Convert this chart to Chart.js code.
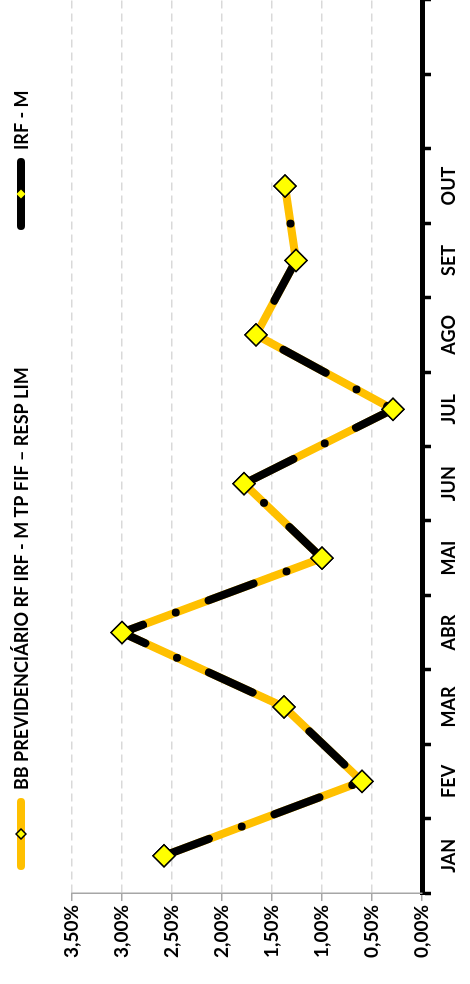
<!DOCTYPE html>
<html>
<head>
<meta charset="utf-8">
<script src="https://cdn.jsdelivr.net/npm/chart.js@4.4.1/dist/chart.umd.min.js"></script>
<style>
  html, body { margin: 0; padding: 0; background: #fff; overflow: hidden; }
  body { width: 470px; height: 984px; position: relative; }
  /* chart is drawn landscape and turned a quarter turn to the left */
  #wrap {
    position: absolute; left: 0; top: 0;
    width: 984px; height: 470px;
    transform-origin: 0 0;
    transform: translate(0, 984px) rotate(-90deg);
  }
</style>
</head>
<body>
<div id="wrap"><canvas id="myChart" width="984" height="470"></canvas></div>
<script>
/* ===== DATA ===== */
const months = ['JAN', 'FEV', 'MAR', 'ABR', 'MAI', 'JUN', 'JUL', 'AGO', 'SET', 'OUT', '', ''];
const bbFund = [2.58, 0.60, 1.38, 3.00, 1.00, 1.78, 0.29, 1.66, 1.26, 1.37];
const irfM = [2.58, 0.60, 1.38, 3.00, 1.00, 1.78, 0.29, 1.66, 1.26, 1.37];
const valueTicks = [0, 0.5, 1, 1.5, 2, 2.5, 3, 3.5];

const FONT = 'Lato, "Open Sans", sans-serif';

function pct(v) {
    return v.toFixed(2).replace('.', ',') + '%';
}

function diamond(ctx, x, y, r, fill, stroke, lw) {
    ctx.beginPath();
    ctx.moveTo(x - r, y);
    ctx.lineTo(x, y - r);
    ctx.lineTo(x + r, y);
    ctx.lineTo(x, y + r);
    ctx.closePath();
    ctx.fillStyle = fill;
    ctx.fill();
    if (stroke) {
        ctx.lineWidth = lw;
        ctx.strokeStyle = stroke;
        ctx.stroke();
    }
}

/* ===== LEGEND (line + marker, like the spreadsheet one) ===== */
const lineLegend = {
    id: 'lineLegend',
    afterDraw(chart) {
        const ctx = chart.ctx;
        const y = 21;
        const items = [
            { x: 114, ds: chart.data.datasets[0], mark: ['#FFFF00', '#000', 1.5, 5] },
            { x: 754, ds: chart.data.datasets[1], mark: ['#FFFF00', null, 0, 4.5] }
        ];
        ctx.save();
        items.forEach(it => {
            ctx.beginPath();
            ctx.lineCap = 'round';
            ctx.lineWidth = 8;
            ctx.strokeStyle = it.ds.borderColor;
            ctx.moveTo(it.x + 4, y);
            ctx.lineTo(it.x + 68, y);
            ctx.stroke();
            diamond(ctx, it.x + 36, y, it.mark[3], it.mark[0], it.mark[1], it.mark[2]);
            ctx.fillStyle = '#000';
            ctx.font = 'bold 18px ' + FONT;
            ctx.textBaseline = 'middle';
            ctx.textAlign = 'left';
            ctx.fillText(it.ds.label, it.x + 80, y + 1);
        });
        ctx.restore();
    }
};

/* big markers of the fund sit on top of both lines */
const markersOnTop = {
    id: 'markersOnTop',
    afterDatasetsDraw(chart) {
        const meta = chart.getDatasetMeta(0);
        meta.data.forEach(p => p.draw(chart.ctx, chart.chartArea));
    }
};

var ctx = document.getElementById('myChart').getContext('2d');

var lineChart = new Chart(ctx, {
    type: 'line',
    data: {
        labels: months,
        datasets: [{
            label: 'BB PREVIDENCIÁRIO RF IRF - M TP FIF – RESP LIM',
            data: bbFund,
            borderColor: '#FFC000',
            borderWidth: 8,
            borderCapStyle: 'round',
            borderJoinStyle: 'round',
            pointStyle: 'rectRot',
            pointRadius: 11,
            pointBackgroundColor: '#FFFF00',
            pointBorderColor: '#000',
            pointBorderWidth: 1.5,
            tension: 0,
            order: 1,
        }, {
            label: 'IRF - M',
            data: irfM,
            borderColor: '#000',
            borderWidth: 8,
            borderCapStyle: 'round',
            borderJoinStyle: 'round',
            borderDash: [48, 35, 0, 35],
            pointStyle: 'rectRot',
            pointRadius: 4,
            pointBackgroundColor: '#FFFF00',
            pointBorderWidth: 0,
            tension: 0,
            order: 0,
        }],
    },
    options: {
        responsive: false,
        animation: false,
        devicePixelRatio: 1,
        layout: { autoPadding: false, padding: { top: 72, left: 0, right: 0, bottom: 0 } },
        plugins: {
            legend: { display: false },
            tooltip: { enabled: false },
        },
        scales: {
            x: {
                offset: true,
                grid: {
                    offset: true,
                    drawOnChartArea: false,
                    drawTicks: true,
                    tickLength: 9,
                    tickColor: '#000',
                    tickWidth: 3.5,
                },
                border: { color: '#000', width: 5 },
                ticks: {
                    color: '#000',
                    font: { family: FONT, size: 18, weight: 'bold' },
                    maxRotation: 0,
                    autoSkip: false,
                    padding: 7,
                },
                afterFit: s => {
                    s.height = 48;
                    s.paddingLeft = 0;
                    s.paddingRight = 0;
                },
            },
            y: {
                min: 0,
                max: 3.5,
                afterBuildTicks: s => { s.ticks = valueTicks.map(v => ({ value: v })); },
                grid: {
                    color: '#D9D9D9',
                    lineWidth: 1.5,
                    tickColor: '#A6A6A6',
                    tickLength: 8,
                    tickWidth: 1.5,
                },
                border: { color: '#A6A6A6', width: 1.5, dash: [8, 5] },
                ticks: {
                    color: '#000',
                    font: { family: FONT, size: 19, weight: 'bold' },
                    padding: 4,
                    callback: v => pct(v),
                },
                afterFit: s => { s.width = 91; },
            },
        },
    },
    plugins: [markersOnTop, lineLegend],
});
</script>
</body>
</html>
